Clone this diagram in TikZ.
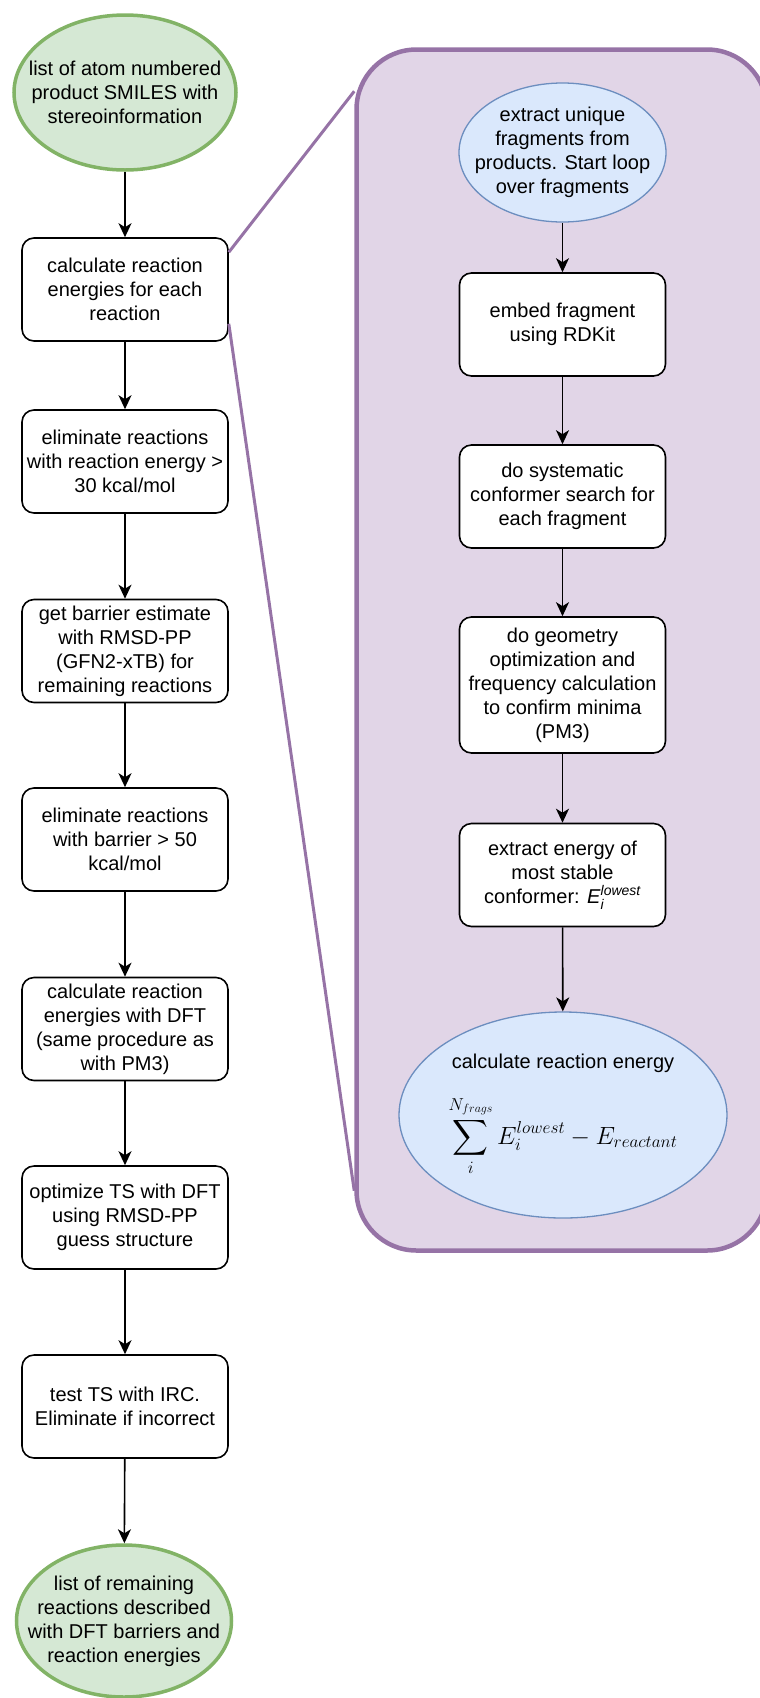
\documentclass[tikz,border=0pt]{standalone}
\usepackage{amsmath}
\usepackage{fontspec}
\setmainfont{Liberation Sans}
\usetikzlibrary{shapes.geometric,arrows.meta}
\definecolor{termfill}{HTML}{D5E8D4}
\definecolor{termline}{HTML}{82B366}
\definecolor{fragfill}{HTML}{DAE8FC}
\definecolor{fragline}{HTML}{6C8EBF}
\definecolor{zoomfill}{HTML}{E1D5E7}
\definecolor{zoomline}{HTML}{9673A6}

\begin{document}
\begin{tikzpicture}[x=1pt,y=-1pt,line width=1.6pt,>={Stealth[length=14pt,width=13pt,inset=4pt]},
	font=\fontsize{20}{24}\selectfont,
	stepbox/.style={rectangle, rounded corners=12pt, draw, fill=white, line width=1.6pt, minimum width=206pt, minimum height=103pt, align=center, inner sep=4pt},
	termnode/.style={ellipse, draw=termline, fill=termfill, line width=3.5pt, inner sep=-30pt, align=center},
	fragnode/.style={ellipse, draw=fragline, fill=fragfill, line width=1.3pt, inner sep=-40pt, align=center},
	zoomlink/.style={draw=zoomline, line width=3pt}]
\useasboundingbox (0,0) rectangle (760,1698);
\node (zone) at (561.75,650) [rectangle, rounded corners=60pt, draw=zoomline, fill=zoomfill, line width=4.5pt, minimum width=410.5pt, minimum height=1201pt] {};
\node (frags) at (562.5,152.5) [fragnode, minimum width=207pt, minimum height=139pt] {extract unique\\fragments from\\products. Start loop\\over fragments};
	\node (embed) at (562.5,324.5) [stepbox] {embed fragment\\using RDKit} edge[<-] (frags);
	\node (search) at (562.5,496.5) [stepbox] {do systematic\\conformer search for\\each fragment} edge[<-] (embed);
	\node (opt) at (562.5,685) [stepbox, minimum height=136pt] {do geometry\\optimization and\\frequency calculation\\to confirm minima\\(PM3)} edge[<-] (search);
	\node (lowest) at (562.5,875) [stepbox] {extract energy of\\most stable\\conformer: \textit{E}$_{\textit{i}}^{\textit{lowest}}$} edge[<-] (opt);
	\node (energy) at (563,1115) [fragnode, minimum width=328pt, minimum height=206pt] {calculate reaction energy\\[22pt]{\fontsize{25}{29}\selectfont$\displaystyle\sum_{i}^{N_{frags}} E_i^{lowest} - E_{reactant}$}} edge[<-] (lowest);
\node (start) at (125,92.5) [termnode, minimum width=222pt, minimum height=155pt] {list of atom numbered\\product SMILES with\\stereoinformation};
	\node (calc) at (125,289.5) [stepbox] {calculate reaction\\energies for each\\reaction} edge[<-] (start);
	\node (elim1) at (125,461.5) [stepbox] {eliminate reactions\\with reaction energy >\\30 kcal/mol} edge[<-] (calc);
	\node (barrier) at (125,651) [stepbox] {get barrier estimate\\with RMSD-PP\\(GFN2-xTB) for\\remaining reactions} edge[<-] (elim1);
	\node (elim2) at (125,839.5) [stepbox] {eliminate reactions\\with barrier > 50\\kcal/mol} edge[<-] (barrier);
	\node (dft) at (125,1029) [stepbox] {calculate reaction\\energies with DFT\\(same procedure as\\with PM3)} edge[<-] (elim2);
	\node (ts) at (125,1217.5) [stepbox] {optimize TS with DFT\\using RMSD-PP\\guess structure} edge[<-] (dft);
	\node (irc) at (125,1406.5) [stepbox] {test TS with IRC.\\Eliminate if incorrect} edge[<-] (ts);
\node (final) at (124,1621) [termnode, minimum width=215pt, minimum height=152pt] {list of remaining\\reactions described\\with DFT barriers and\\reaction energies} edge[<-] (irc);
\draw[zoomlink] ([yshift=-15pt]calc.north east) -- ([yshift=-44pt]zone.north west);
\draw[zoomlink] ([yshift=18pt]calc.south east) -- ([yshift=62pt]zone.south west);
\end{tikzpicture}
\end{document}
